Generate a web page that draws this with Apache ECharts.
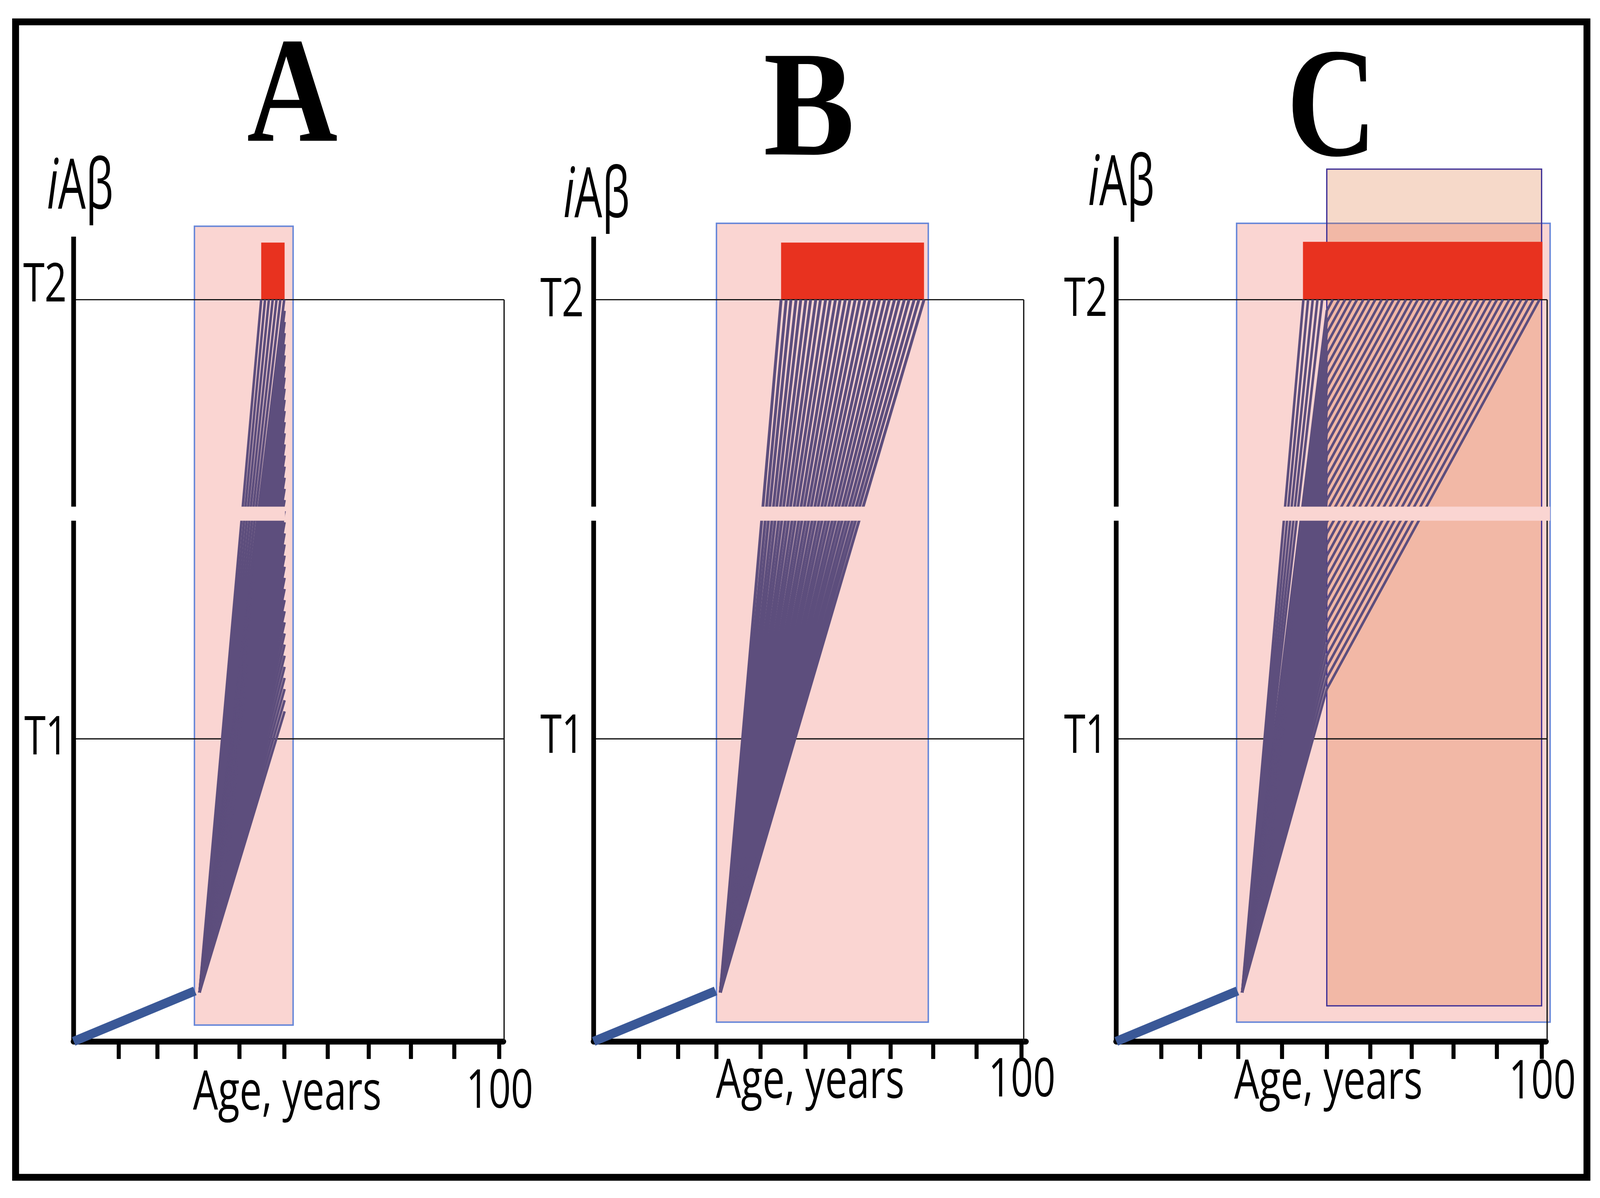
<!DOCTYPE html>
<html>
<head>
<meta charset="utf-8">
<script src="https://cdn.jsdelivr.net/npm/echarts@6.0.0/dist/echarts.min.js"></script>
<style>
html,body{margin:0;padding:0;background:#fff;overflow:hidden;}
#main{width:100vw;height:100vh;}
</style>
</head>
<body>
<div id="main"></div>
<script>
// ---------------- data (age in years, iAβ in arbitrary units, T2 = 100) ----------------
const panelLetters = ['A', 'B', 'C'];
const ageTicks = [10.6, 19.7, 28.7, 39.0, 49.5, 59.7, 69.4, 79.3, 89.5, 100];
const thresholdLabels = ['T1', 'T2'];
const thresholdValues = [40.8, 100];
const rightEdges = [101.2, 100.5, 101.3];
const yAxisTop = 108.5;
const breakLevels = [70.2, 72.1];
const breakBandA = [38.8, 49.7];
const breakBandB = [38.8, 63.6];
const breakBandC = [38.6, 102.0];

// rectangles: [age from, age to, level from, level to]
const windowA = [28.4, 51.6, 2.2, 109.9];
const windowB = [28.7, 78.2, 2.6, 110.3];
const windowC = [28.3, 102.0, 2.6, 110.3];
const treatmentC = [49.5, 100.0, 4.8, 117.6];
const adA = [44.1, 49.6, 100, 107.7];
const adB = [43.8, 77.2, 100, 107.7];
const adC = [43.9, 100.2, 100, 107.8];

// initial slow accumulation and start of the fan
const onsetLine = [[0, 0], [28.5, 6.8]];
const fanStart = [29.6, 6.6];

// panel A: trajectories reaching T2 at these ages, or truncated at the edge age at these levels
const fanA_t2Ages = [44.1, 45.0, 45.9, 46.8, 47.7, 48.6, 49.5];
const fanA_edgeAge = 49.6;
const fanA_edgeLevels = [98.5, 97, 95.5, 94, 92.5, 91, 89.5, 88, 86.5, 85, 83.5, 82, 80.5, 79,
                         77.5, 76, 74.5, 73, 71.5, 70, 68.5, 67, 65.5, 64, 62.5, 61, 59.5, 58,
                         56.5, 55, 53.5, 52, 50.5, 49, 47.5, 46, 44.5];

// panel B: trajectories reaching T2 at these ages
const fanB_t2Ages = [43.8, 45.0, 46.1, 47.3, 48.4, 49.6, 50.7, 51.9, 53.0, 54.2,
                     55.3, 56.5, 57.6, 58.8, 59.9, 61.1, 62.2, 63.4, 64.5, 65.7,
                     66.8, 68.0, 69.1, 70.3, 71.4, 72.6, 73.7, 74.9, 76.0, 77.2];

// panel C: untreated crossings, then treated trajectories (level at treatment age -> T2 crossing age)
const fanC_t2Ages = [44.0, 45.1, 46.2, 47.3, 48.4];
const fanC_treatAge = 49.5;
const fanC_treatLevels = [98.5, 97.0, 95.5, 94.0, 92.5, 91.0, 89.5, 88.0, 86.5, 85.0,
                          83.5, 82.0, 80.5, 79.0, 77.5, 76.0, 74.5, 73.0, 71.5, 70.0,
                          68.5, 67.0, 65.5, 64.0, 62.5, 61.0, 59.5, 58.0, 56.5, 55.0,
                          53.5, 52.0, 50.5, 49.0, 47.5];
const fanC_treatedT2Ages = [50.9, 52.4, 53.8, 55.2, 56.6, 58.1, 59.5, 60.9, 62.4, 63.8,
                            65.2, 66.6, 68.1, 69.5, 70.9, 72.4, 73.8, 75.2, 76.6, 78.1,
                            79.5, 80.9, 82.4, 83.8, 85.2, 86.6, 88.1, 89.5, 90.9, 92.4,
                            93.8, 95.2, 96.6, 98.1, 99.5];

// ---------------- styling ----------------
const PINK = '#fad5d2';
const PINK_BORDER = '#6686d8';
const SALMON = 'rgba(214,92,20,0.23)';
const SALMON_BORDER = '#3d2f96';
const RED = '#e8321f';
const PURPLE = '#5d4e7d';
const BLUE = '#3a5897';

const dom = document.getElementById('main');
const W = dom.clientWidth || window.innerWidth || 4412;
const H = dom.clientHeight || window.innerHeight || 3068;
const sx = W / 4412, sy = H / 3068, sf = Math.min(sx, sy);
const px = v => v * sx, py = v => v * sy, pw = v => v * sf;

const chart = echarts.init(dom, null, {width: W, height: H});

const grids = [
  {left: px(203), top: py(387.6), width: px(1184.7), height: py(2279.4)},
  {left: px(1637), top: py(387.6), width: px(1191.8), height: py(2279.4)},
  {left: px(3078), top: py(387.6), width: px(1184.7), height: py(2279.4)}
];

const xAxes = [], yAxes = [];
grids.forEach((g, i) => {
  xAxes.push({
    gridIndex: i, type: 'value', min: 0, max: 101,
    axisLine: {show: true, onZero: false, lineStyle: {color: '#000', width: pw(16)}},
    axisTick: {show: true, customValues: ageTicks, length: py(45), inside: false, lineStyle: {color: '#000', width: pw(11)}},
    axisLabel: {show: false}, splitLine: {show: false}
  });
  xAxes.push({
    gridIndex: i, type: 'value', min: 0, max: 101,
    axisLine: {show: false},
    axisTick: {show: true, customValues: ageTicks, length: py(42), inside: true, lineStyle: {color: '#000', width: pw(11)}},
    axisLabel: {show: false}, splitLine: {show: false}
  });
  yAxes.push({gridIndex: i, type: 'value', min: 0, max: 120, show: false});
});

function rectSeries(panel, rect, fill, stroke, strokeWidth, z) {
  return {
    type: 'custom', xAxisIndex: 2 * panel, yAxisIndex: panel, clip: false, silent: true, z: z,
    data: [rect],
    renderItem: function (params, api) {
      const a = api.coord([api.value(0), api.value(3)]);
      const b = api.coord([api.value(1), api.value(2)]);
      return {
        type: 'rect',
        shape: {x: a[0], y: a[1], width: b[0] - a[0], height: b[1] - a[1]},
        style: {fill: fill, stroke: stroke || null, lineWidth: stroke ? pw(strokeWidth) : 0}
      };
    }
  };
}

function linesSeries(panel, paths, color, width, z) {
  return {
    type: 'lines', coordinateSystem: 'cartesian2d', xAxisIndex: 2 * panel, yAxisIndex: panel,
    polyline: true, silent: true, z: z, clip: false,
    lineStyle: {color: color, width: pw(width), opacity: 1, cap: 'butt'},
    data: paths.map(c => ({coords: c}))
  };
}

const T1 = thresholdValues[0], T2 = thresholdValues[1];

const fanPaths = [
  fanA_t2Ages.map(a => [fanStart, [a, T2]]).concat(fanA_edgeLevels.map(v => [fanStart, [fanA_edgeAge, v]])),
  fanB_t2Ages.map(a => [fanStart, [a, T2]]),
  fanC_t2Ages.map(a => [fanStart, [a, T2]]).concat(
    fanC_treatLevels.map((v, k) => [fanStart, [fanC_treatAge, v], [fanC_treatedT2Ages[k], T2]]))
];
const fanWidths = [7, 8, 7];
const windows = [windowA, windowB, windowC];
const adBars = [adA, adB, adC];
const bands = [breakBandA, breakBandB, breakBandC];

const series = [];
for (let p = 0; p < 3; p++) {
  const re = rightEdges[p];
  series.push(rectSeries(p, windows[p], PINK, PINK_BORDER, 4, 2));
  if (p === 2) series.push(rectSeries(p, treatmentC, SALMON, SALMON_BORDER, 3.5, 3));
  series.push(rectSeries(p, adBars[p], RED, null, 0, 4));
  series.push(linesSeries(p, [
    [[0, T2], [re, T2]],
    [[0, T1], [re, T1]],
    [[re, T2], [re, 0]]
  ], '#151515', 3.5, 5));
  series.push(linesSeries(p, fanPaths[p], PURPLE, fanWidths[p], 6));
  series.push(rectSeries(p, [bands[p][0], bands[p][1], breakLevels[0], breakLevels[1]], PINK, null, 0, 7));
  series.push(linesSeries(p, [
    [[0, 0], [0, breakLevels[0]]],
    [[0, breakLevels[1]], [0, yAxisTop]]
  ], '#000', 13, 8));
  series.push(linesSeries(p, [onsetLine], BLUE, 25, 9));
}

// ---------------- text ----------------
const aspect = sx / sy;
function txt(text, x, y, size) {
  return {type: 'text', x: px(x), y: py(y), scaleX: 0.78 * aspect, z: 100,
    style: {text: text, fontFamily: 'Open Sans', fontSize: size * sy, fill: '#000', align: 'center', verticalAlign: 'middle'}};
}
function iabeta(x, y) {
  return {type: 'text', x: px(x), y: py(y), scaleX: 0.68 * aspect, z: 100,
    style: {text: '{i|i}{n|Aβ}', align: 'center', verticalAlign: 'middle',
      rich: {i: {fontFamily: 'Open Sans', fontStyle: 'italic', fontSize: 178 * sy, fill: '#000'},
             n: {fontFamily: 'Open Sans', fontSize: 178 * sy, fill: '#000'}}}};
}
function letter(text, x, y, size, scale) {
  return {type: 'text', x: px(x), y: py(y), scaleX: scale * aspect, z: 100,
    style: {text: text, fontFamily: 'Liberation Serif', fontWeight: 'bold', fontSize: size * sy, fill: '#000', align: 'center', verticalAlign: 'middle'}};
}

const graphics = [
  {type: 'rect', z: 100, shape: {x: px(43), y: py(56), width: px(4333), height: py(2959)},
   style: {fill: 'rgba(0,0,0,0)', stroke: '#000', lineWidth: pw(19)}},
  letter(panelLetters[0], 806, 261, 385, 0.9),
  letter(panelLetters[1], 2231, 296, 385, 0.98),
  letter(panelLetters[2], 3672, 294, 400, 0.86),
  iabeta(221, 483), iabeta(1645, 505), iabeta(3092, 474),
  txt(thresholdLabels[1], 124, 733, 137), txt(thresholdLabels[0], 127, 1893, 137),
  txt(thresholdLabels[1], 1550, 771, 137), txt(thresholdLabels[0], 1550, 1889, 137),
  txt(thresholdLabels[1], 2994, 770, 137), txt(thresholdLabels[0], 2994, 1889, 137),
  txt('Age, years', 792, 2802, 140), txt('Age, years', 2234, 2772, 140), txt('Age, years', 3663, 2774, 140),
  txt('100', 1378, 2798, 138), txt('100', 2818, 2769, 138), txt('100', 4253, 2774, 138)
];

chart.setOption({
  animation: false,
  backgroundColor: '#fff',
  grid: grids.map(g => Object.assign({outerBoundsMode: 'none', containLabel: false}, g)),
  xAxis: xAxes,
  yAxis: yAxes,
  series: series,
  graphic: graphics
});
</script>
</body>
</html>
